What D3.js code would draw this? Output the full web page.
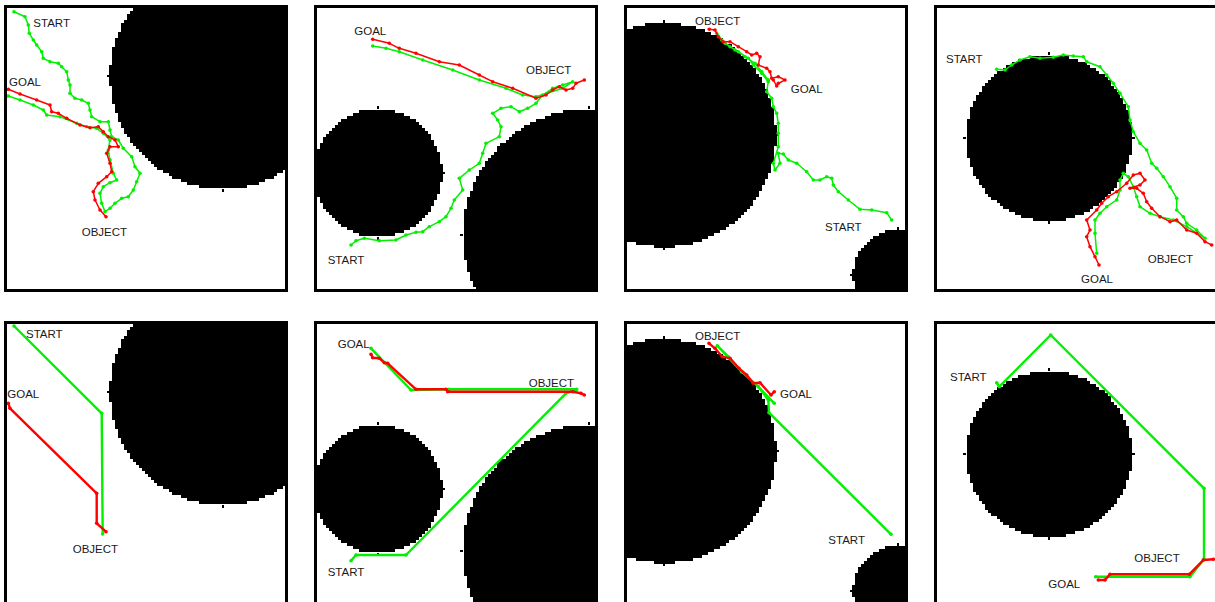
<!DOCTYPE html>
<html><head><meta charset="utf-8">
<script src="https://cdn.jsdelivr.net/npm/d3@7"></script>
<style>html,body{margin:0;padding:0;background:#fff;}svg{display:block;}</style>
</head><body>
<svg id="chart" width="1215" height="602"></svg>
<script>
// ---- DATA (world units = panel-local pixels, 0..284) ----
// Obstacles per column (shared by top and bottom row): [cx, cy, r]
const obstaclesCol1 = [[219, 71, 113]];
const obstaclesCol2 = [[64, 168, 64], [275, 230, 126]];
const obstaclesCol3 = [[40, 130, 112], [274, 270, 45]];
const obstaclesCol4 = [[115, 133, 83]];
const obstacles = [obstaclesCol1, obstaclesCol2, obstaclesCol3, obstaclesCol4];

// Robot (green) paths, panels 1..8 (row-major)
const robotP1 = [[10,6.7],[21,11.7],[24.3,20],[25.3,28.3],[29.3,35],[32.7,40],[37.7,46.7],[39.3,53.3],[46,56.7],[54.3,58.3],[57.7,61.7],[62.7,66.7],[64.3,75],[66,80],[66,88.3],[71,93.3],[77.7,95],[84.3,98.3],[86,105],[87.7,111.7],[96,116.7],[104.3,116.7],[106,125],[107.7,131.7],[114.3,135],[119.3,143.3],[127.7,151.7],[131,161.7],[136,168.3],[132.7,176.7],[129.3,185],[124.3,191.7],[117.7,193.3],[111,198.3],[106,203.3],[101,206.7],[97.7,198.3],[96,188.3],[99.3,181.7],[106,177.7],[112.7,175],[109.3,168.3],[106,155],[104.3,145],[106,135],[99.3,128.3],[92.7,123.3],[82.7,121.7],[72.7,118.3],[56,111.7],[42.7,110],[39.3,105],[29.3,100],[16,95],[4.3,91]];
const robotP2 = [[37,240],[42,235.7],[50.3,233.3],[65.3,235.7],[82,235],[92,230],[102,227.3],[108.7,226.7],[115.3,221.7],[125.3,216.7],[132,211.7],[137,203.3],[140.3,195],[148.7,185],[145.3,173.3],[155.3,165],[165.3,158.3],[168.7,148.3],[172,138.3],[185.3,131.7],[187,121.7],[183.7,115],[178.7,108.3],[187,103.3],[197,101.7],[205.3,106.7],[213.7,103.3],[222,98.3],[228.7,90],[238.7,83.3],[248.7,80],[258.7,76.7],[248.7,83.3],[222,91.7],[208.7,90],[192,83.3],[165.3,75],[138.7,65],[108.7,55],[85.3,46.7],[72,43.3],[58.7,41]];
const robotP3 = [[267.7,215],[262.7,207.7],[247.7,205],[236,204.3],[224.3,195],[214.3,186.7],[209.3,180],[207.7,173.3],[202.7,171.7],[196,175],[189.3,175],[182.7,166.7],[172.7,158.3],[164.3,155],[159.3,149],[154.3,148.3],[156,158.3],[151,165],[149.3,158.3],[154.3,141.7],[154.3,128.3],[154.3,118.3],[152.7,108.3],[149.3,101.7],[147.7,93.3],[142.7,86.7],[144.3,76.7],[137.7,68.3],[129.3,60],[124.3,53.3],[114.3,46.7],[106,41.7],[97.7,35],[92.7,28.3],[101,38.3],[111,45],[121,51.7],[131,58.3],[137.7,66.7],[144.3,75]];
const robotP4 = [[62.7,64.3],[71,65],[77.7,60],[86,55],[96,51.7],[106,53.3],[119.3,52.3],[129.3,50],[139.3,51],[149.3,51.7],[152.7,56.7],[166,61.7],[172.7,70],[179.3,78.3],[186,88.3],[194.3,101.7],[196,115],[199.3,126.7],[206,138.3],[212.7,145],[217.7,158.3],[222.7,163.3],[229.3,171.7],[236,181.7],[242.7,193.3],[242.7,205],[249.3,211.7],[252.7,218.3],[262.7,225],[271,233.3],[252.7,221.7],[239.3,215],[226,211.7],[216,208.3],[206,201.7],[202.7,191.7],[199.3,181.7],[194.3,171.7],[189.3,168.3],[186,175],[186,185],[182.7,195],[172.7,201.7],[166,208.3],[161,215],[161,228.3],[162.7,248.3]];
const robotP5 = [[10,5],[97.7,92.3],[98.7,213]];
const robotP6 = [[37,239.7],[42,234],[92,234],[252,72.3],[262.7,68.3],[135.3,68.3],[97,69],[57,27.3]];
const robotP7 = [[267,213.3],[145,91.7],[144.3,79],[134.3,65.7],[117.7,50.7],[104.3,35.7],[93.3,24.7],[117.7,50.7],[134.3,65.7],[150.3,82.3]];
const robotP8 = [[62.7,61.7],[65.3,65.7],[116.7,14],[270,167.3],[270,238.3],[256,255.7],[161.7,255.7]];
const robotPaths = [robotP1, robotP2, robotP3, robotP4, robotP5, robotP6, robotP7, robotP8];

// Object (red) paths
const objectP1 = [[102,211.7],[96,205],[91,195],[89.3,186.7],[94.3,178.3],[102.7,171.7],[107.7,166.7],[106,158.3],[102.7,148.3],[106,141.7],[114.3,141.7],[111,135],[104.3,131.7],[99.3,126.7],[94.3,121.7],[86,122.7],[76,120],[62.7,113.3],[54.3,108.3],[47.7,106.7],[46,100],[32.7,95],[16,89],[4.3,84.3]];
const objectP2 = [[270.3,75],[262,78.3],[258.7,83.3],[252,85],[245.3,81.7],[238.7,85],[232,90],[222,93.3],[198.7,83.3],[178.7,76.7],[165.3,70],[145.3,60],[125.3,56.7],[102,48.3],[85.3,43.3],[75.3,38.3],[58.7,34.3]];
const objectP3 = [[85.3,24.3],[91,25],[94.3,31.7],[99.3,36.7],[106,36.7],[114.3,41.7],[122.7,46.7],[127.7,50],[132.7,48.3],[136,51.7],[134.3,60],[142.7,63.3],[146,66.7],[147.7,73.3],[154.3,71.7],[161,75],[154.3,78.3],[152.7,81],[149.3,75]];
const objectP4 = [[277.7,240],[271,236.7],[262.7,228.3],[252.7,225],[242.7,215],[236,216.7],[226,211.7],[217.7,203.3],[212.7,196.7],[209.3,188.3],[202.7,183.3],[196,183.3],[206,180],[211,175],[206,168.3],[199.3,170],[192.7,178.3],[182.7,186.7],[174.3,191.7],[167.7,198.3],[162.7,205],[152.7,215],[156,225],[152.7,231.7],[156,241.7],[161,251.7],[165,260]];
const objectP5 = [[4.3,82.3],[6,87.3],[92.7,172.3],[92.7,202.3],[102,210.7]];
const objectP6 = [[270.3,74],[267,72.3],[258.7,70.7],[133.7,70.7],[132,68.3],[102,68.3],[73.7,42.3],[70.3,41.7],[65.3,37.3],[58.7,36.7],[57,33.3]];
const objectP7 = [[85,22.3],[91,27.3],[98.3,35.7],[106,37.3],[115,47.3],[122.7,54],[129.3,62.3],[136,61.7],[147,74],[150.3,70.7]];
const objectP8 = [[279.3,238.3],[269.3,239],[255.3,253.3],[176,253.3],[171,259],[164.3,259]];
const objectPaths = [objectP1, objectP2, objectP3, objectP4, objectP5, objectP6, objectP7, objectP8];

// Labels: [x, baselineY] per panel
const labelNames = ["START", "GOAL", "OBJECT"];
const startLabels  = [[29.3,22.3],[13.7,259],[201,225.7],[12,57.7],[22,17.3],[13.7,254.7],[204.3,223],[16,59.7]];
const goalLabels   = [[5,81],[40.3,30],[166.7,88.3],[147,277.7],[3.3,77.3],[23.7,27.3],[156,77.3],[114.3,266.7]];
const objectLabels = [[77.7,230.7],[212,69],[71,20],[213.7,257.7],[68.7,231.7],[214.7,65.7],[71,19],[200.3,240.7]];

// ---- LAYOUT ----
const panelW = 284, panelH = 287, border = 3, cell = 3;
const colStep = 310, rowStep = 316, left0 = 4, top0 = 5;
const svg = d3.select("#chart");

for (let p = 0; p < 8; p++) {
  const row = Math.floor(p / 4), col = p % 4;
  const x0 = left0 + col * colStep, y0 = top0 + row * rowStep;
  const xs = d3.scaleLinear().domain([0, panelW]).range([x0, x0 + panelW]);
  const ys = d3.scaleLinear().domain([0, panelH]).range([y0, y0 + panelH]);
  const g = svg.append("g");
  const clipId = "clip" + p;
  svg.append("clipPath").attr("id", clipId).append("rect")
    .attr("x", x0 + border).attr("y", y0 + border)
    .attr("width", panelW - 2 * border).attr("height", panelH - 2 * border);
  g.append("rect").attr("x", x0).attr("y", y0).attr("width", panelW).attr("height", panelH).attr("fill", "#fff");
  const inner = g.append("g").attr("clip-path", `url(#${clipId})`);
  // pixelated obstacles: rows of cells
  obstacles[col].forEach(([cx, cy, r]) => {
    const spans = [];
    const rowsIdx = d3.range(Math.floor((cy - r) / cell), Math.ceil((cy + r) / cell) + 1);
    rowsIdx.forEach(i => {
      const yc = i * cell + cell / 2;
      const dy = yc - cy;
      if (Math.abs(dy) > r) return;
      const half = Math.sqrt(r * r - dy * dy);
      const a = Math.round((cx - half) / cell), b = Math.round((cx + half) / cell);
      if (b > a) spans.push({y: i * cell, x1: a * cell, x2: b * cell});
    });
    inner.selectAll(null).data(spans).enter().append("rect")
      .attr("x", d => xs(d.x1)).attr("y", d => ys(d.y))
      .attr("width", d => xs(d.x2) - xs(d.x1)).attr("height", cell + 0.3)
      .attr("fill", "#000").attr("shape-rendering", "crispEdges");
    // small rasterisation ticks at the four extremes
    const ticks = [[cx - 1, cy - r - 3, 2, 3], [cx - 1, cy + r, 2, 3], [cx - r - 3, cy - 1, 3, 2], [cx + r, cy - 1, 3, 2]];
    inner.selectAll(null).data(ticks).enter().append("rect")
      .attr("x", d => xs(d[0])).attr("y", d => ys(d[1]))
      .attr("width", d => d[2]).attr("height", d => d[3]).attr("fill", "#000");
  });
  const line = d3.line().x(d => xs(d[0])).y(d => ys(d[1]));
  const sw = row === 0 ? 1.5 : 2.4;
  [[robotPaths[p], "#00f000"], [objectPaths[p], "#ff0000"]].forEach(([pts, c]) => {
    inner.append("path").attr("d", line(pts)).attr("fill", "none").attr("stroke", c)
      .attr("stroke-width", sw).attr("stroke-linejoin", "round");
    inner.selectAll(null).data(pts).enter().append("circle")
      .attr("cx", d => xs(d[0])).attr("cy", d => ys(d[1])).attr("r", 1.8).attr("fill", c);
  });
  const labs = [startLabels[p], goalLabels[p], objectLabels[p]];
  labs.forEach((l, k) => {
    inner.append("text").attr("x", xs(l[0])).attr("y", ys(l[1])).text(labelNames[k])
      .attr("font-family", "'Liberation Sans', Arial, Helvetica, sans-serif")
      .attr("font-size", "11.5px").attr("fill", "#1a1a1a");
  });
  g.append("rect").attr("x", x0 + border / 2).attr("y", y0 + border / 2)
    .attr("width", panelW - border).attr("height", panelH - border)
    .attr("fill", "none").attr("stroke", "#000").attr("stroke-width", border);
}
</script>
</body></html>
